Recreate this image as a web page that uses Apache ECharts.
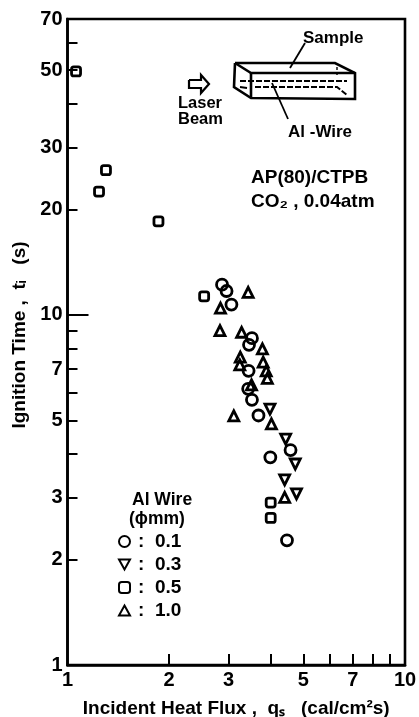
<!DOCTYPE html>
<html>
<head>
<meta charset="utf-8">
<style>html,body{margin:0;padding:0;background:#fff}#chart{width:419px;height:717px}</style>
<script src="https://cdn.jsdelivr.net/npm/echarts@6/dist/echarts.min.js"></script>
</head>
<body>
<div id="chart"></div>
<script>
// incident heat flux (cal/cm2 s), ignition time (s)
const wire01 = [[2.87,12.2],[2.96,11.7],[3.06,10.7],[3.52,8.58],[3.45,8.21],[3.44,6.92],[3.43,6.15],[3.52,5.72],[3.68,5.16],[4.58,4.11],[3.99,3.92],[4.47,2.27]];
const wire03 = [[3.98,5.38],[4.43,4.42],[4.73,3.75],[4.40,3.38],[4.77,3.08]];
const wire05 = [[1.06,49.6],[1.30,25.9],[1.24,22.5],[1.86,18.5],[2.54,11.3],[4.00,2.91],[4.00,2.63]];
const wire10 = [[3.43,11.6],[2.84,10.45],[2.83,9.02],[3.28,8.92],[3.78,8.0],[3.25,7.57],[3.24,7.2],[3.80,7.33],[3.88,6.92],[3.91,6.59],[3.51,6.31],[3.11,5.15],[4.02,4.88],[4.40,3.01]];
const xLabels = [1,2,3,5,7,10];
const xTicks = [2,3,4,5,6,7,8,9];
const yLabels = [1,2,3,5,7,10,20,30,50,70];
const yTicks = [2,3,4,5,6,7,8,9,20,30,40,50,60];
const yLongTicks = [10];

const FONT = '"Liberation Sans", Arial, sans-serif';
const DOWN = 'path://M0,0 L10,0 L5,9 Z';
const UP = 'path://M5,0 L10,9 L0,9 Z';
const chart = echarts.init(document.getElementById('chart'));

function mark(name, data, symbol, rotate, size) {
    return {
        name: name,
        type: 'scatter',
        data: data,
        symbol: symbol,
        symbolRotate: rotate,
        symbolSize: size,
        itemStyle: {color: 'transparent', borderColor: '#000', borderWidth: 2.8, opacity: 1}
    };
}

function label(text, x, y, size, extra) {
    return {type: 'text', x: x, y: y, silent: true, style: Object.assign({
        text: text, fill: '#000', font: 'bold ' + size + 'px ' + FONT, verticalAlign: 'middle'
    }, extra || {})};
}

function line(points, w, dash) {
    return {type: 'polyline', silent: true, shape: {points: points},
        style: {stroke: '#000', fill: null, lineWidth: w, lineDash: dash || null}};
}

chart.setOption({
    animation: false,
    backgroundColor: '#fff',
    grid: {left: 67.5, right: 14, top: 19, bottom: 52, show: true, borderColor: '#000', borderWidth: 2.6, outerBoundsMode: 'none'},
    xAxis: {
        type: 'log', min: 1, max: 10, logBase: 10, splitLine: {show: false},
        axisLine: {lineStyle: {color: '#000', width: 2.6}, onZero: false},
        axisTick: {inside: true, length: 11, customValues: xTicks, lineStyle: {color: '#000', width: 2}},
        axisLabel: {customValues: xLabels, color: '#000', fontFamily: FONT, fontWeight: 'bold', fontSize: 20, margin: 5, hideOverlap: false, showMinLabel: true, showMaxLabel: true},
        name: 'Incident Heat Flux ,  q\u209b   (cal/cm\u00b2s)',
        nameLocation: 'middle', nameGap: 34,
        nameTextStyle: {color: '#000', fontFamily: FONT, fontWeight: 'bold', fontSize: 19}
    },
    yAxis: [{
        type: 'log', min: 1, max: 70, logBase: 10, splitLine: {show: false},
        axisLine: {lineStyle: {color: '#000', width: 2.6}, onZero: false},
        axisTick: {inside: true, length: 10, customValues: yTicks, lineStyle: {color: '#000', width: 2}},
        axisLabel: {customValues: yLabels, color: '#000', fontFamily: FONT, fontWeight: 'bold', fontSize: 20, margin: 5, hideOverlap: false, showMinLabel: true, showMaxLabel: true},
        name: 'Ignition Time ,  t\u1d62   (s)',
        nameLocation: 'middle', nameGap: 38, nameRotate: 90,
        nameTextStyle: {color: '#000', fontFamily: FONT, fontWeight: 'bold', fontSize: 19, padding: [0, 0, 0, 14]}
    }, {
        type: 'log', min: 1, max: 70, logBase: 10, position: 'left', splitLine: {show: false},
        axisLine: {show: false},
        axisLabel: {show: false},
        axisTick: {inside: true, length: 21, customValues: yLongTicks, lineStyle: {color: '#000', width: 2}}
    }],
    legend: {
        show: true, orient: 'vertical', left: 113, top: 527,
        itemWidth: 11, itemHeight: 11, itemGap: 4, symbolKeepAspect: true,
        formatter: ':  {name}',
        textStyle: {color: '#000', fontFamily: FONT, fontWeight: 'bold', fontSize: 19, padding: [0, 0, 0, 3]},
        selectedMode: false,
        data: [
            {name: '0.1', icon: 'circle'},
            {name: '0.3', icon: DOWN},
            {name: '0.5', icon: 'roundRect'},
            {name: '1.0', icon: UP}
        ]
    },
    series: [
        mark('0.1', wire01, 'circle', 0, 11),
        mark('0.3', wire03, 'triangle', 180, 10),
        mark('0.5', wire05, 'roundRect', 0, 9),
        mark('1.0', wire10, 'triangle', 0, 10)
    ],
    graphic: [
        label('AP(80)/CTPB', 251, 178, 19),
        label('CO\u2082 , 0.04atm', 251, 202, 19),
        label('Sample', 303, 38, 17),
        label('Al -Wire', 288, 132, 17),
        label('Laser', 178, 103, 16.5),
        label('Beam', 178, 119, 16.5),
        label('Al Wire', 132, 500, 17.5),
        label('(\u03d5mm)', 129, 519, 17.5),
        // sample block sketch
        line([[235,63],[335,63],[355,73],[355,99],[251,98],[234,87],[235,63]], 2.6),
        line([[235,63],[251,73],[355,73]], 2.6),
        line([[251,73],[251,98]], 2.6),
        line([[240,81],[347,81]], 2, [6, 2]),
        line([[255,87],[337,87],[347,95]], 2, [6, 2]),
        line([[240,87],[247,88]], 2),
        line([[337,67],[337,77]], 1.4, [3, 2]),
        line([[290,68],[305,43]], 1.8),
        line([[272,83],[288,119]], 1.8),
        // laser arrow
        line([[189,80],[201,80],[201,75],[209,84],[201,93],[201,88],[189,88],[189,80]], 2.2)
    ]
});
</script>
</body>
</html>
